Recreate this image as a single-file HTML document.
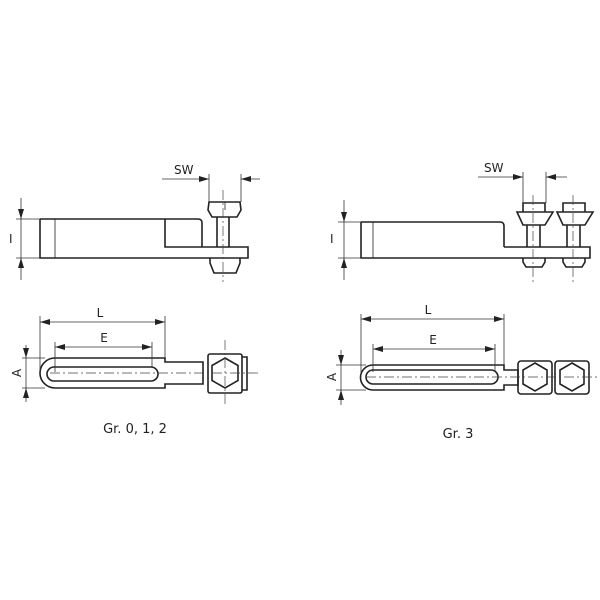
<!DOCTYPE html>
<html><head><style>body{margin:0;background:#fff}svg{display:block}</style></head><body>
<svg width="600" height="600" viewBox="0 0 600 600" xmlns="http://www.w3.org/2000/svg" font-family="'DejaVu Sans','Liberation Sans',sans-serif">
<defs>
<marker id="a" viewBox="0 0 10 6" refX="10" refY="3" markerWidth="11" markerHeight="6" markerUnits="userSpaceOnUse" orient="auto-start-reverse"><path d="M0,0L10,3L0,6z" fill="#222"/></marker>
</defs>
<g fill="none" stroke="#222" stroke-width="1.6">
<!-- LEFT side view -->
<path d="M40,219H198Q202,219 202,223V247"/>
<path d="M40,219V258H248V247H165V219"/>
<line x1="55" y1="219" x2="55" y2="258" stroke-width="0.8"/>
<path d="M209,202H240L241,210L237,217H212L208,210Z"/>
<line x1="225" y1="202" x2="225" y2="210" stroke-width="0.8"/>
<path d="M217,217V247M229,217V247"/>
<path d="M210,258V263L214,273H236L240,263V258"/>
<!-- RIGHT side view -->
<path d="M361,222H500Q504,222 504,226V247"/>
<path d="M361,222V258H590V247H504"/>
<line x1="373" y1="222" x2="373" y2="258" stroke-width="0.8"/>
<path d="M523,203H545V212H523Z M517,212H553L545,225H523Z M527,225V247M540,225V247 M523,258V262L526,267H542L545,262V258"/>
<path d="M563,203H585V212H563Z M557,212H593L585,225H563Z M567,225V247M580,225V247 M563,258V262L566,267H582L585,262V258"/>
<!-- LEFT plan -->
<path d="M165,358H55A15,15 0 0 0 55,388H165V384H203V362H165Z"/>
<path d="M203,362V384" stroke-width="0.8"/>
<path d="M54,367H151A7,7 0 0 1 151,381H54A7,7 0 0 1 54,367Z"/>
<rect x="208" y="354" width="34" height="39" rx="2"/>
<path d="M242,357H247V390H242"/>
<polygon points="225,358 238,365.5 238,380.5 225,388 212,380.5 212,365.5"/>
<!-- RIGHT plan -->
<path d="M504,365H373A12.5,12.5 0 0 0 373,390H504V385H518V370H504Z"/>
<path d="M373,370H491A7,7 0 0 1 491,384H373A7,7 0 0 1 373,370Z"/>
<rect x="518" y="361" width="34" height="33" rx="3"/>
<rect x="555" y="361" width="34" height="33" rx="3"/>
<polygon points="535,363 547,370 547,384 535,391 523,384 523,370"/>
<polygon points="572,363 584,370 584,384 572,391 560,384 560,370"/>
</g>
<!-- centre lines -->
<g stroke="#444" stroke-width="0.7" stroke-dasharray="10,3,2,3" fill="none">
<line x1="223" y1="190" x2="223" y2="282"/>
<line x1="533" y1="195" x2="533" y2="282"/>
<line x1="573" y1="195" x2="573" y2="282"/>
<line x1="50" y1="373" x2="258" y2="373"/>
<line x1="225" y1="340" x2="225" y2="405"/>
<line x1="366" y1="377" x2="598" y2="377"/>
</g>
<!-- dimension lines -->
<g stroke="#333" stroke-width="0.8" fill="none">
<line x1="209" y1="174" x2="209" y2="202"/><line x1="241" y1="174" x2="241" y2="202"/>
<line x1="162" y1="179" x2="209" y2="179" marker-end="url(#a)"/><line x1="260" y1="179" x2="241" y2="179" marker-end="url(#a)"/>
<line x1="16" y1="219" x2="40" y2="219"/><line x1="16" y1="258" x2="40" y2="258"/>
<line x1="21" y1="198" x2="21" y2="219" marker-end="url(#a)"/><line x1="21" y1="280" x2="21" y2="258" marker-end="url(#a)"/><line x1="21" y1="219" x2="21" y2="258"/>
<line x1="523" y1="172" x2="523" y2="203"/><line x1="546" y1="172" x2="546" y2="203"/>
<line x1="478" y1="177" x2="523" y2="177" marker-end="url(#a)"/><line x1="567" y1="177" x2="546" y2="177" marker-end="url(#a)"/>
<line x1="338" y1="222" x2="361" y2="222"/><line x1="338" y1="258" x2="361" y2="258"/>
<line x1="344" y1="200" x2="344" y2="222" marker-end="url(#a)"/><line x1="344" y1="280" x2="344" y2="258" marker-end="url(#a)"/><line x1="344" y1="222" x2="344" y2="258"/>
<line x1="40" y1="316" x2="40" y2="372"/><line x1="165" y1="316" x2="165" y2="358"/>
<line x1="40" y1="322" x2="165" y2="322" marker-start="url(#a)" marker-end="url(#a)"/>
<line x1="55" y1="342" x2="55" y2="372"/><line x1="152" y1="342" x2="152" y2="367"/>
<line x1="55" y1="347" x2="152" y2="347" marker-start="url(#a)" marker-end="url(#a)"/>
<line x1="22" y1="358" x2="45" y2="358"/><line x1="22" y1="388" x2="45" y2="388"/>
<line x1="26" y1="345" x2="26" y2="358" marker-end="url(#a)"/><line x1="26" y1="402" x2="26" y2="388" marker-end="url(#a)"/><line x1="26" y1="358" x2="26" y2="388"/>
<line x1="361" y1="314" x2="361" y2="377"/><line x1="504" y1="314" x2="504" y2="365"/>
<line x1="361" y1="319" x2="504" y2="319" marker-start="url(#a)" marker-end="url(#a)"/>
<line x1="373" y1="344" x2="373" y2="372"/><line x1="495" y1="344" x2="495" y2="372"/>
<line x1="373" y1="349" x2="495" y2="349" marker-start="url(#a)" marker-end="url(#a)"/>
<line x1="336" y1="365" x2="366" y2="365"/><line x1="336" y1="390" x2="366" y2="390"/>
<line x1="341" y1="350" x2="341" y2="365" marker-end="url(#a)"/><line x1="341" y1="405" x2="341" y2="390" marker-end="url(#a)"/><line x1="341" y1="365" x2="341" y2="390"/>
</g>
<g fill="#222" font-size="12">
<text x="174" y="174">SW</text>
<text x="484" y="172">SW</text>
<text x="9" y="243">I</text>
<text x="330" y="243">I</text>
<text x="100" y="317" text-anchor="middle">L</text>
<text x="104" y="342" text-anchor="middle">E</text>
<text x="428" y="314" text-anchor="middle">L</text>
<text x="433" y="344" text-anchor="middle">E</text>
<text transform="translate(21,373) rotate(-90)" text-anchor="middle">A</text>
<text transform="translate(336,377) rotate(-90)" text-anchor="middle">A</text>
<text x="135" y="433" text-anchor="middle" font-size="13">Gr. 0, 1, 2</text>
<text x="458" y="438" text-anchor="middle" font-size="13">Gr. 3</text>
</g>
</svg>
</body></html>
